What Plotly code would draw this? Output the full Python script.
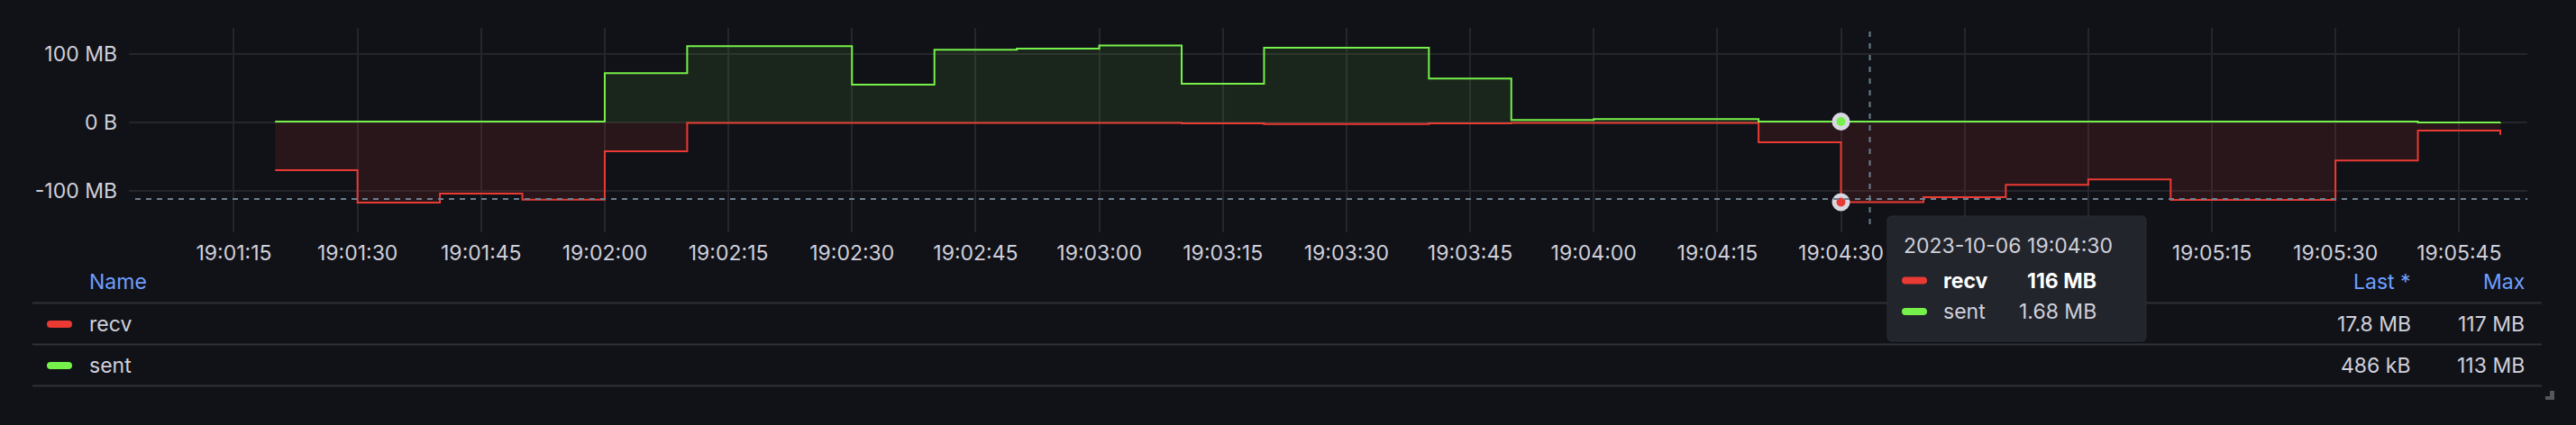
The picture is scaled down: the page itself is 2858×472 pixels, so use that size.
import plotly.graph_objects as go

# ---------------- data ----------------
times = [
    "2023-10-06 19:01:20", "2023-10-06 19:01:30", "2023-10-06 19:01:40", "2023-10-06 19:01:50",
    "2023-10-06 19:02:00", "2023-10-06 19:02:10", "2023-10-06 19:02:20", "2023-10-06 19:02:30",
    "2023-10-06 19:02:40", "2023-10-06 19:02:50", "2023-10-06 19:03:00", "2023-10-06 19:03:10",
    "2023-10-06 19:03:20", "2023-10-06 19:03:30", "2023-10-06 19:03:40", "2023-10-06 19:03:50",
    "2023-10-06 19:04:00", "2023-10-06 19:04:10", "2023-10-06 19:04:20", "2023-10-06 19:04:30",
    "2023-10-06 19:04:40", "2023-10-06 19:04:50", "2023-10-06 19:05:00", "2023-10-06 19:05:10",
    "2023-10-06 19:05:20", "2023-10-06 19:05:30", "2023-10-06 19:05:40", "2023-10-06 19:05:50",
]
# MB per interval (recv shown on the negative side, Grafana "negative-Y" transform)
recv_mb = [69.3, 116.7, 103.6, 112.3, 41.7, 0.3, 0.3, 0.3, 0.3, 0.3, 0.3, 0.9,
           1.8, 1.8, 0.9, 0.4, 0.3, 0.3, 28.5, 116.0, 108.8, 90.8, 82.9, 112.7,
           112.7, 55.3, 11.4, 17.8]
sent_mb = [1.6, 1.6, 1.6, 1.6, 72.4, 112.0, 112.0, 55.7, 106.6, 108.3, 113.0, 57.0,
           109.6, 109.6, 64.5, 3.9, 5.3, 5.3, 1.8, 1.68, 1.7, 1.7, 1.7, 1.7,
           1.7, 1.7, 0.45, 0.486]

series_names = ["recv", "sent"]
legend_last = ["17.8 MB", "486 kB"]
legend_max = ["117 MB", "113 MB"]

y_tick_vals = [-100, 0, 100]
y_tick_text = ["-100 MB", "0 B", "100 MB"]

x_tick_vals = [
    "2023-10-06 19:01:15", "2023-10-06 19:01:30", "2023-10-06 19:01:45", "2023-10-06 19:02:00",
    "2023-10-06 19:02:15", "2023-10-06 19:02:30", "2023-10-06 19:02:45", "2023-10-06 19:03:00",
    "2023-10-06 19:03:15", "2023-10-06 19:03:30", "2023-10-06 19:03:45", "2023-10-06 19:04:00",
    "2023-10-06 19:04:15", "2023-10-06 19:04:30", "2023-10-06 19:04:45", "2023-10-06 19:05:00",
    "2023-10-06 19:05:15", "2023-10-06 19:05:30", "2023-10-06 19:05:45",
]
# labels under the tooltip are hidden by it in the reference
x_tick_text = [
    "19:01:15", "19:01:30", "19:01:45", "19:02:00", "19:02:15", "19:02:30", "19:02:45",
    "19:03:00", "19:03:15", "19:03:30", "19:03:45", "19:04:00", "19:04:15", "19:04:30",
    "", "", "19:05:15", "19:05:30", "19:05:45",
]

x_range = ["2023-10-06 19:01:02.26", "2023-10-06 19:05:53.28"]
y_range = [-160.1, 138.55]

hover_index = 19
tooltip_title = "2023-10-06 19:04:30"
tooltip_values = ["116 MB", "1.68 MB"]
cursor_time = "2023-10-06 19:04:33.5"
cursor_value = -111.4

# ---------------- style ----------------
W, H = 2858, 472
ML, MR, MT, MB = 143, 54, 31, 214
BG = "#111217"
TXT = "#d0d0dc"
GRID = "#25262b"
RED = "#ea3a34"
GREEN = "#76f04a"
RED_FILL = "rgba(234,58,52,0.11)"
GREEN_FILL = "rgba(118,240,74,0.09)"
BLUE = "#6e9fff"
FONT = "Inter"
FS = 23

pw = W - ML - MR
ph = H - MT - MB


def px2x(px):
    return (px - ML) / pw


def py2y(py):
    return (H - MB - py) / ph


recv_neg = [-v for v in recv_mb]

fig = go.Figure()
fig.add_trace(go.Scatter(x=times, y=recv_neg, mode="lines", line=dict(color=RED, width=2, shape="hv"),
                         fill="tozeroy", fillcolor=RED_FILL, name="recv", hoverinfo="skip"))
fig.add_trace(go.Scatter(x=times, y=sent_mb, mode="lines", line=dict(color=GREEN, width=2, shape="hv"),
                         fill="tozeroy", fillcolor=GREEN_FILL, name="sent", hoverinfo="skip"))

shapes = []
# crosshair
shapes.append(dict(type="line", xref="x", yref="paper", x0=cursor_time, x1=cursor_time, y0=0.04, y1=1,
                   line=dict(color="#6d808f", width=2, dash="6px,7px"), layer="above"))
shapes.append(dict(type="line", xref="paper", yref="y", x0=px2x(150), x1=1, y0=cursor_value, y1=cursor_value,
                   line=dict(color="#6d808f", width=2, dash="6px,6px"), layer="above"))

# hover markers
fig.add_trace(go.Scatter(x=[times[hover_index]], y=[recv_neg[hover_index]], mode="markers",
                         marker=dict(size=15, color=RED, line=dict(color="#d8d8e2", width=5)), hoverinfo="skip"))
fig.add_trace(go.Scatter(x=[times[hover_index]], y=[sent_mb[hover_index]], mode="markers",
                         marker=dict(size=15, color=GREEN, line=dict(color="#d8d8e2", width=5)), hoverinfo="skip"))

annotations = []

# legend table
for py in [336.5, 382.5, 428.5]:
    shapes.append(dict(type="line", xref="paper", yref="paper", x0=px2x(36), x1=px2x(2820),
                       y0=py2y(py), y1=py2y(py), line=dict(color="#303137", width=2)))


def pill(x0, x1, yc, h, color):
    r = h / 2
    X0, X1 = px2x(x0), px2x(x1)
    rx = r / pw
    yt, yb = py2y(yc - r), py2y(yc + r)
    ym = py2y(yc)
    path = (f"M {X0+rx},{yt} L {X1-rx},{yt} Q {X1},{yt} {X1},{ym} Q {X1},{yb} {X1-rx},{yb} "
            f"L {X0+rx},{yb} Q {X0},{yb} {X0},{ym} Q {X0},{yt} {X0+rx},{yt} Z")
    return dict(type="path", xref="paper", yref="paper", path=path, fillcolor=color,
                line=dict(width=0), layer="above")


def text(px, py, s, anchor="left", color=TXT, size=FS):
    annotations.append(dict(x=px2x(px), y=py2y(py), xref="paper", yref="paper", text=s,
                            showarrow=False, xanchor=anchor, yanchor="middle",
                            font=dict(family=FONT, size=size, color=color)))


text(97, 313, "Name", color=BLUE)
text(2677, 313, "Last *", anchor="right", color=BLUE)
text(2803, 313, "Max", anchor="right", color=BLUE)
row_y = [360, 406]
colors = [RED, GREEN]
for i, nm in enumerate(series_names):
    shapes.append(pill(52, 80, row_y[i], 8, colors[i]))
    text(97, row_y[i], nm)
    text(2677, row_y[i], legend_last[i], anchor="right")
    text(2803, row_y[i], legend_max[i], anchor="right")

# resize handle
shapes.append(dict(type="path", xref="paper", yref="paper",
                   path=(f"M {px2x(2829)},{py2y(434)} L {px2x(2834)},{py2y(434)} L {px2x(2834)},{py2y(444)} "
                         f"L {px2x(2824)},{py2y(444)} L {px2x(2824)},{py2y(440)} L {px2x(2829)},{py2y(440)} Z"),
                   fillcolor="#55565c", line=dict(width=0)))

# tooltip box (rounded)
bx0, bx1, by0, by1, rr = 2094, 2381, 240, 379, 5
X0, X1, Y0, Y1 = px2x(bx0), px2x(bx1), py2y(by0), py2y(by1)
rx, ry = rr / pw, rr / ph
tip_path = (f"M {X0+rx},{Y0} L {X1-rx},{Y0} Q {X1},{Y0} {X1},{Y0-ry} L {X1},{Y1+ry} Q {X1},{Y1} {X1-rx},{Y1} "
            f"L {X0+rx},{Y1} Q {X0},{Y1} {X0},{Y1+ry} L {X0},{Y0-ry} Q {X0},{Y0} {X0+rx},{Y0} Z")
shapes.append(dict(type="path", xref="paper", yref="paper", path=tip_path, fillcolor="#22252b",
                   line=dict(color="#2a2c33", width=1), layer="above"))
text(2110, 273, tooltip_title)
tip_rows = [311.5, 346]
for i, nm in enumerate(series_names):
    shapes.append(pill(2110, 2138, tip_rows[i], 8, colors[i]))
    if i == 0:
        text(2154, tip_rows[i], f"<b>{nm}</b>", color="#ffffff")
        text(2328, tip_rows[i], f"<b>{tooltip_values[i]}</b>", anchor="right", color="#ffffff")
    else:
        text(2154, tip_rows[i], nm)
        text(2328, tip_rows[i], tooltip_values[i], anchor="right")

fig.update_layout(
    width=W, height=H,
    margin=dict(l=ML, r=MR, t=MT, b=MB, pad=0),
    paper_bgcolor=BG, plot_bgcolor=BG,
    showlegend=False,
    hovermode=False,
    font=dict(family=FONT, size=FS, color=TXT),
    shapes=shapes,
    annotations=annotations,
    xaxis=dict(type="date", range=x_range, tickvals=x_tick_vals, ticktext=x_tick_text,
               showgrid=True, gridcolor=GRID, gridwidth=1.5,
               zeroline=False, showline=False, ticks="", ticklabelstandoff=7,
               tickfont=dict(family=FONT, size=FS, color=TXT)),
    yaxis=dict(range=y_range, tickvals=y_tick_vals, ticktext=y_tick_text, showgrid=True,
               gridcolor=GRID, gridwidth=1.5, zeroline=False, showline=False, ticks="",
               ticklabelstandoff=12, tickfont=dict(family=FONT, size=FS, color=TXT)),
)

fig.write_html(
    "out.html",
    config={"displayModeBar": False},
    post_script="document.body.style.margin='0';document.body.style.padding='0';"
                "document.body.style.background='#111217';document.documentElement.style.background='#111217';",
)
